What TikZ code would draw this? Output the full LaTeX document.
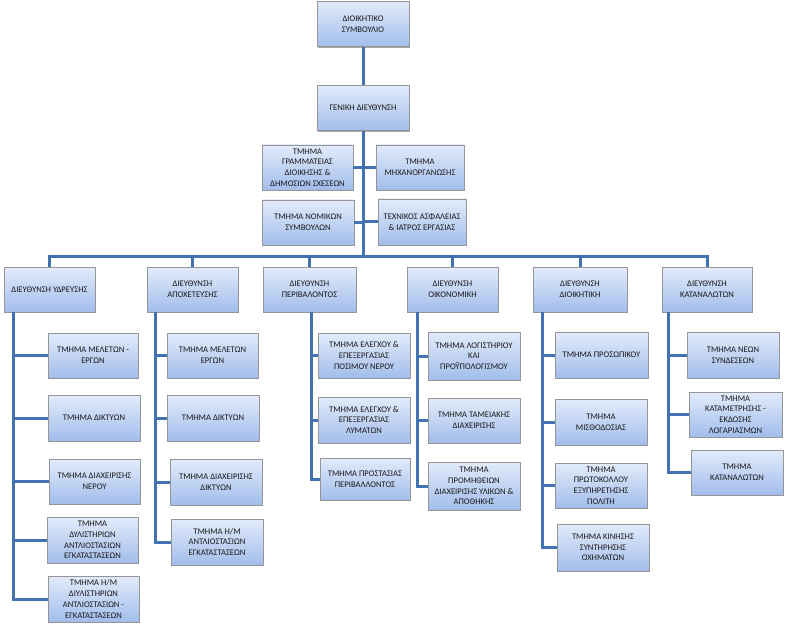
\documentclass[tikz,border=0pt]{standalone}
\usepackage{fontspec}
\setmainfont{Carlito}
\usetikzlibrary{shadows}
\definecolor{linec}{RGB}{68,114,176}
\definecolor{boxtop}{RGB}{226,235,251}
\definecolor{boxbot}{RGB}{162,189,235}
\definecolor{boxbd}{RGB}{150,150,150}
\definecolor{txt}{RGB}{25,25,25}
\tikzset{
  orgbox/.style={draw=boxbd, line width=0.8pt, top color=boxtop, bottom color=boxbot,
    minimum height=45pt, inner sep=1pt, align=center, text=txt,
    font=\fontsize{8.6}{10.7}\selectfont,
    drop shadow={shadow xshift=1.2pt, shadow yshift=-1.2pt, fill=black, opacity=0.35}},
  conn/.style={draw=linec, line width=3pt}
}
\begin{document}
\begin{tikzpicture}[x=1pt,y=-1pt]
\useasboundingbox (0,0) rectangle (786,628);
% top
\node[orgbox, minimum width=92pt] (DS) at (363,24) {ΔΙΟΙΚΗΤΙΚΟ\\ΣΥΜΒΟΥΛΙΟ};
\node[orgbox, minimum width=92pt] (GD) at (363,108) {ΓΕΝΙΚΗ ΔΙΕΥΘΥΝΣΗ};
% staff
\node[orgbox, minimum width=91pt] (S1) at (307.5,167.5) {ΤΜΗΜΑ\\ΓΡΑΜΜΑΤΕΙΑΣ\\ΔΙΟΙΚΗΣΗΣ \&\\ΔΗΜΟΣΙΩΝ ΣΧΕΣΕΩΝ};
\node[orgbox, minimum width=88pt] (S2) at (420,167.5) {ΤΜΗΜΑ\\ΜΗΧΑΝΟΡΓΑΝΩΣΗΣ};
\node[orgbox, minimum width=92pt] (S3) at (308,222.5) {ΤΜΗΜΑ ΝΟΜΙΚΩΝ\\ΣΥΜΒΟΥΛΩΝ};
\node[orgbox, minimum width=88pt, minimum height=46pt] (S4) at (422,222) {ΤΕΧΝΙΚΟΣ ΑΣΦΑΛΕΙΑΣ\\\& ΙΑΤΡΟΣ ΕΡΓΑΣΙΑΣ};
% heads
\node[orgbox, minimum width=91pt] (H1) at (49.5,289.5) {ΔΙΕΥΘΥΝΣΗ ΥΔΡΕΥΣΗΣ};
\node[orgbox, minimum width=91pt] (H2) at (192.5,289.5) {ΔΙΕΥΘΥΝΣΗ\\ΑΠΟΧΕΤΕΥΣΗΣ};
\node[orgbox, minimum width=93pt] (H3) at (309.5,289.5) {ΔΙΕΥΘΥΝΣΗ\\ΠΕΡΙΒΑΛΟΝΤΟΣ};
\node[orgbox, minimum width=91pt] (H4) at (452.5,289.5) {ΔΙΕΥΘΥΝΣΗ\\ΟΙΚΟΝΟΜΙΚΗ};
\node[orgbox, minimum width=94pt] (H5) at (580,289.5) {ΔΙΕΥΘΥΝΣΗ\\ΔΙΟΙΚΗΤΙΚΗ};
\node[orgbox, minimum width=90pt] (H6) at (707,289.5) {ΔΙΕΥΘΥΝΣΗ\\ΚΑΤΑΝΑΛΩΤΩΝ};
% H1 subs
\node[orgbox, minimum width=90pt] (A1) at (93,355.5) {ΤΜΗΜΑ ΜΕΛΕΤΩΝ -\\ΕΡΓΩΝ};
\node[orgbox, minimum width=92pt, minimum height=46pt] (A2) at (94,418) {ΤΜΗΜΑ ΔΙΚΤΥΩΝ};
\node[orgbox, minimum width=91pt] (A3) at (94.5,481.5) {ΤΜΗΜΑ ΔΙΑΧΕΙΡΙΣΗΣ\\ΝΕΡΟΥ};
\node[orgbox, minimum width=91pt, minimum height=46pt] (A4) at (92.5,540) {ΤΜΗΜΑ\\ΔΥΛΙΣΤΗΡΙΩΝ\\ΑΝΤΛΙΟΣΤΑΣΙΩΝ\\ΕΓΚΑΤΑΣΤΑΣΕΩΝ};
\node[orgbox, minimum width=91pt, minimum height=46pt] (A5) at (93.5,599) {ΤΜΗΜΑ Η/Μ\\ΔΙΥΛΙΣΤΗΡΙΩΝ\\ΑΝΤΛΙΟΣΤΑΣΙΩΝ -\\ΕΓΚΑΤΑΣΤΑΣΕΩΝ};
% H2 subs
\node[orgbox, minimum width=91pt] (B1) at (212.5,355.5) {ΤΜΗΜΑ ΜΕΛΕΤΩΝ\\ΕΡΓΩΝ};
\node[orgbox, minimum width=92pt, minimum height=46pt] (B2) at (213,418) {ΤΜΗΜΑ ΔΙΚΤΥΩΝ};
\node[orgbox, minimum width=92pt, minimum height=46pt] (B3) at (216,482) {ΤΜΗΜΑ ΔΙΑΧΕΙΡΙΣΗΣ\\ΔΙΚΤΥΩΝ};
\node[orgbox, minimum width=92pt, minimum height=46pt] (B4) at (217,542) {ΤΜΗΜΑ Η/Μ\\ΑΝΤΛΙΟΣΤΑΣΙΩΝ\\ΕΓΚΑΤΑΣΤΑΣΕΩΝ};
% H3 subs
\node[orgbox, minimum width=92pt] (C1) at (364,355.5) {ΤΜΗΜΑ ΕΛΕΓΧΟΥ \&\\ΕΠΕΞΕΡΓΑΣΙΑΣ\\ΠΟΣΙΜΟΥ ΝΕΡΟΥ};
\node[orgbox, minimum width=92pt, minimum height=46pt] (C2) at (364,420) {ΤΜΗΜΑ ΕΛΕΓΧΟΥ \&\\ΕΠΕΞΕΡΓΑΣΙΑΣ\\ΛΥΜΑΤΩΝ};
\node[orgbox, minimum width=90pt, minimum height=42pt] (C3) at (365,479) {ΤΜΗΜΑ ΠΡΟΣΤΑΣΙΑΣ\\ΠΕΡΙΒΑΛΛΟΝΤΟΣ};
% H4 subs
\node[orgbox, minimum width=92pt, minimum height=48pt] (D1) at (474,356) {ΤΜΗΜΑ ΛΟΓΙΣΤΗΡΙΟΥ\\ΚΑΙ\\ΠΡΟΫΠΟΛΟΓΙΣΜΟΥ};
\node[orgbox, minimum width=92pt] (D2) at (474,420.5) {ΤΜΗΜΑ ΤΑΜΕΙΑΚΗΣ\\ΔΙΑΧΕΙΡΙΣΗΣ};
\node[orgbox, minimum width=92pt, minimum height=48pt] (D3) at (474,486) {ΤΜΗΜΑ\\ΠΡΟΜΗΘΕΙΩΝ\\ΔΙΑΧΕΙΡΙΣΗΣ ΥΛΙΚΩΝ \&\\ΑΠΟΘΗΚΗΣ};
% H5 subs
\node[orgbox, minimum width=93pt, minimum height=46pt] (E1) at (601.5,355) {ΤΜΗΜΑ ΠΡΟΣΩΠΙΚΟΥ};
\node[orgbox, minimum width=92pt, minimum height=46pt] (E2) at (601,422) {ΤΜΗΜΑ\\ΜΙΣΘΟΔΟΣΙΑΣ};
\node[orgbox, minimum width=92pt] (E3) at (601,485.5) {ΤΜΗΜΑ\\ΠΡΩΤΟΚΟΛΛΟΥ\\ΕΞΥΠΗΡΕΤΗΣΗΣ\\ΠΟΛΙΤΗ};
\node[orgbox, minimum width=92pt, minimum height=47pt] (E4) at (603,547.5) {ΤΜΗΜΑ ΚΙΝΗΣΗΣ\\ΣΥΝΤΗΡΗΣΗΣ\\ΟΧΗΜΑΤΩΝ};
% H6 subs
\node[orgbox, minimum width=92pt, minimum height=46pt] (F1) at (733,355) {ΤΜΗΜΑ ΝΕΩΝ\\ΣΥΝΔΕΣΕΩΝ};
\node[orgbox, minimum width=93pt] (F2) at (735.5,414.5) {ΤΜΗΜΑ\\ΚΑΤΑΜΕΤΡΗΣΗΣ -\\ΕΚΔΟΣΗΣ\\ΛΟΓΑΡΙΑΣΜΩΝ};
\node[orgbox, minimum width=92pt] (F3) at (737,472.5) {ΤΜΗΜΑ\\ΚΑΤΑΝΑΛΩΤΩΝ};
% coordinates
\coordinate (bus) at (363,256);
\coordinate (v1) at (13,312);
\coordinate (v2) at (155,312);
\coordinate (v3) at (311,312);
\coordinate (v4) at (417,312);
\coordinate (v5) at (542,312);
\coordinate (v6) at (668,312);
% connectors
\draw[conn] (DS.south) -- (GD.north);
\draw[conn] (GD.south) -- (bus);
\draw[conn] (S1.east) -- (S1.east -| bus);
\draw[conn] (S2.west) -- (S2.west -| bus);
\draw[conn] (S3.east) -- (S3.east -| bus);
\draw[conn] (S4.west) -- (S4.west -| bus);
\foreach \h in {H1,H2,H3,H4,H5,H6} \draw[conn] (\h.north) |- (bus);
\foreach \b in {A1,A2,A3,A4,A5} \draw[conn] (v1) |- (\b.west);
\foreach \b in {B1,B2,B3,B4} \draw[conn] (v2) |- (\b.west);
\foreach \b in {C1,C2,C3} \draw[conn] (v3) |- (\b.west);
\foreach \b in {D1,D2,D3} \draw[conn] (v4) |- (\b.west);
\foreach \b in {E1,E2,E3,E4} \draw[conn] (v5) |- (\b.west);
\foreach \b in {F1,F2,F3} \draw[conn] (v6) |- (\b.west);
\end{tikzpicture}
\end{document}
